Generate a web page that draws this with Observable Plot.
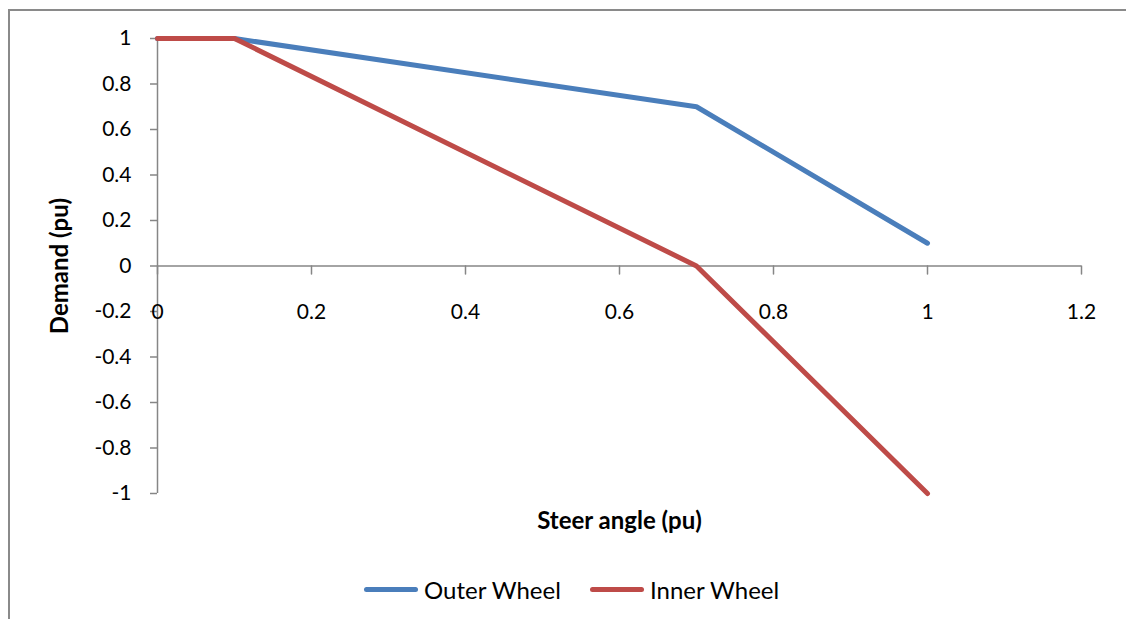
<!DOCTYPE html>
<html>
<head>
<meta charset="utf-8">
<script src="https://cdn.jsdelivr.net/npm/d3@7"></script>
<script src="https://cdn.jsdelivr.net/npm/@observablehq/plot@0.6"></script>
<style>
  html, body { margin: 0; padding: 0; background: #fff; }
  body { width: 1126px; height: 619px; position: relative; overflow: hidden; font-family: Lato, "Open Sans", sans-serif; }
  #frame { position: absolute; left: 8px; top: 9px; width: 1130px; height: 620px; border-left: 2px solid #8a8a8a; border-top: 2px solid #8a8a8a; box-sizing: border-box; }
  #chart { position: absolute; left: 0; top: 0; }
  #legend { position: absolute; left: 0; top: 573px; width: 1126px; height: 32px; }
  .item { position: absolute; top: 0; display: flex; align-items: center; height: 32px; font-size: 24px; color: #000; }
  .swatch { width: 54px; height: 5px; border-radius: 3px; margin-right: 6px; }
</style>
</head>
<body>
<div id="frame"></div>
<div id="chart"></div>
<div id="legend"></div>
<script>
const steerAngle = [0, 0.1, 0.7, 1];
const outerWheel = [1, 1, 0.7, 0.1];
const innerWheel = [1, 1, 0, -1];
const seriesNames = ["Outer Wheel", "Inner Wheel"];
const seriesColors = ["#4A7EBB", "#BE4B48"];
const xTicks = [0, 0.2, 0.4, 0.6, 0.8, 1, 1.2];
const yTicks = [-1, -0.8, -0.6, -0.4, -0.2, 0, 0.2, 0.4, 0.6, 0.8, 1];
const xTitle = "Steer angle (pu)";
const yTitle = "Demand (pu)";

const rows = [];
steerAngle.forEach((x, i) => rows.push({series: seriesNames[0], x, y: outerWheel[i]}));
steerAngle.forEach((x, i) => rows.push({series: seriesNames[1], x, y: innerWheel[i]}));

const axisColor = "#868686";
const tickShape = {draw(context, l) { context.moveTo(0, 0); context.lineTo(0, -l); }};

const chart = Plot.plot({
  width: 1126,
  height: 565,
  marginLeft: 157,
  marginRight: 45,
  marginTop: 38,
  marginBottom: 72,
  style: {fontFamily: "Lato, 'Open Sans', sans-serif", fontSize: "21px", color: "#000", background: "transparent", overflow: "visible"},
  x: {domain: [0, 1.2], axis: null},
  y: {domain: [-1, 1], axis: null},
  color: {domain: seriesNames, range: seriesColors},
  marks: [
    Plot.ruleX([0], {stroke: axisColor, strokeWidth: 1.5}),
    Plot.ruleY([0], {stroke: axisColor, strokeWidth: 1.5}),
    Plot.axisY({ticks: yTicks, tickSize: 7, tickPadding: 19, tickFormat: d => String(d), stroke: axisColor, strokeWidth: 1.5, label: null, fontSize: 21, fill: "#000"}),
    Plot.vector(xTicks, {x: d => d, y: 0, length: 8, rotate: 180, anchor: "start", shape: tickShape, stroke: axisColor, strokeWidth: 1.5}),
    Plot.text(xTicks, {x: d => d, y: 0, dy: 46, text: d => String(d), fontSize: 21, fill: "#000"}),
    Plot.text([xTitle], {frameAnchor: "bottom", dy: 28, lineAnchor: "middle", text: d => d, fontSize: 24, fontWeight: "bold", fill: "#000"}),
    Plot.text([yTitle], {frameAnchor: "left", dx: -97, rotate: -90, textAnchor: "middle", lineAnchor: "middle", text: d => d, fontSize: 24, fontWeight: "bold", fill: "#000"}),
    Plot.line(rows, {x: "x", y: "y", z: "series", stroke: "series", strokeWidth: 5, strokeLinejoin: "round", strokeLinecap: "round"})
  ]
});
document.getElementById("chart").appendChild(chart);

const legend = document.getElementById("legend");
const lefts = [364, 590];
seriesNames.forEach((name, i) => {
  const item = document.createElement("div");
  item.className = "item";
  item.style.left = lefts[i] + "px";
  const sw = document.createElement("div");
  sw.className = "swatch";
  sw.style.background = seriesColors[i];
  item.appendChild(sw);
  const t = document.createElement("span");
  t.textContent = name;
  item.appendChild(t);
  legend.appendChild(item);
});
</script>
</body>
</html>
